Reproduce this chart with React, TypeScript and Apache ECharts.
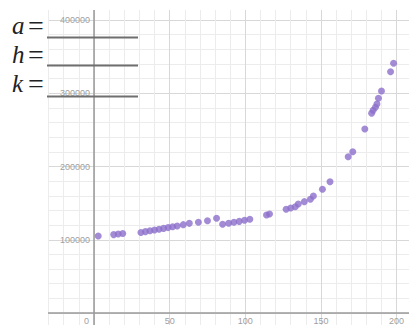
import React, { useEffect, useRef } from "react";
import * as echarts from "echarts";

const xValues = [
  2.8, 13, 16, 19, 31, 34, 37, 40, 43, 46, 49, 52, 55, 59, 63, 69, 75, 81, 85,
  89, 92.5, 96, 99.5, 103, 114, 116, 127, 130, 133, 135, 139, 143, 145, 151,
  156, 168, 171, 179, 183.5, 184.5, 186, 187, 188, 190, 196, 198,
];
const yValues = [
  105100, 107000, 107800, 108500, 110000, 111100, 112200, 113300, 114400,
  115500, 116600, 117700, 118800, 120600, 122400, 123800, 126000, 129300,
  121100, 122500, 123800, 125100, 126500, 127900, 133800, 135200, 141600,
  143300, 145100, 148800, 152000, 155200, 159700, 168900, 179200, 213400,
  220200, 251200, 272600, 276800, 281000, 285300, 293100, 303100, 329400,
  340900,
];
const xTicks = [0, 50, 100, 150, 200];
const yTicks = [100000, 200000, 300000, 400000];
const paramNames = ["a", "h", "k"];

export default function App() {
  const ref = useRef<HTMLDivElement>(null);
  useEffect(() => {
    if (!ref.current) return;
    const chart = echarts.init(ref.current, null, { renderer: "svg" });
    const labelColor = "#a0a0a0";
    const font = "Liberation Sans";
    const paramBaselines = [34.5, 63, 92.5];
    const lineYs = [37.5, 65.5, 96.5];
    const graphics: any[] = [
      { type: "rect", z: 100, shape: { x: 0, y: 0, width: 48, height: 325 }, style: { fill: "#fff" } },
      { type: "rect", z: 100, shape: { x: 0, y: 0, width: 409, height: 10 }, style: { fill: "#fff" } },
    ];
    paramNames.forEach((p, i) => {
      graphics.push({
        type: "text",
        z: 102,
        style: {
          text: "{v|" + p + "}{e|=}",
          x: 12,
          y: paramBaselines[i] + 5,
          verticalAlign: "bottom",
          rich: {
            v: { font: 'italic 25px "Liberation Serif"', fill: "#222", width: 16 },
            e: { font: '28px "Liberation Serif"', fill: "#222" },
          },
        },
      });
      graphics.push({
        type: "line",
        z: 101,
        shape: { x1: 47, y1: lineYs[i], x2: 138, y2: lineYs[i] },
        style: { stroke: "#6f6f6f", lineWidth: 2 },
      });
    });
    const X0 = 18.35, W = 453.9, T = -53.25, H = 439.5;
    const axisLineStyle = { color: "#9a9a9a", width: 1.5 };
    chart.setOption({
      animation: false,
      backgroundColor: "#fff",
      grid: [
        { left: X0, top: T, width: W, height: H, outerBoundsMode: "none" },
        { left: X0, top: T, width: W, height: 366.25, outerBoundsMode: "none" },
        { left: 94, top: T, width: 378.25, height: H, outerBoundsMode: "none" },
      ],
      xAxis: [
        {
          gridIndex: 0, type: "value", min: -50, max: 250, interval: 50,
          axisLine: { show: false }, axisTick: { show: false }, axisLabel: { show: false },
          splitLine: { show: true, lineStyle: { color: "#d8d8d8", width: 1 } },
          minorTick: { show: false, splitNumber: 5 },
          minorSplitLine: { show: true, lineStyle: { color: "#ececec", width: 1 } },
        },
        {
          gridIndex: 1, type: "value", min: -50, max: 250, interval: 50, position: "bottom",
          axisLine: { show: true, onZero: false, lineStyle: axisLineStyle },
          axisTick: { show: false },
          splitLine: { show: false },
          axisLabel: {
            color: labelColor, fontSize: 9, fontFamily: font, margin: 3,
            formatter: (v: number) =>
              xTicks.indexOf(v) < 0 ? "" : v === 0 ? "{o|0}" : String(v),
            rich: {
              o: { color: labelColor, fontSize: 9, fontFamily: font, padding: [0, 15, 0, 0] },
            },
          },
        },
        { gridIndex: 2, type: "value", min: 0, max: 250, show: false },
      ],
      yAxis: [
        {
          gridIndex: 0, type: "value", min: -100000, max: 500000, interval: 100000,
          axisLine: { show: false }, axisTick: { show: false }, axisLabel: { show: false },
          splitLine: { show: true, lineStyle: { color: "#d8d8d8", width: 1 } },
          minorTick: { show: false, splitNumber: 5 },
          minorSplitLine: { show: true, lineStyle: { color: "#ececec", width: 1 } },
        },
        { gridIndex: 1, type: "value", min: 0, max: 500000, show: false },
        {
          gridIndex: 2, type: "value", min: -100000, max: 500000, interval: 100000, position: "left",
          axisLine: { show: true, onZero: false, lineStyle: axisLineStyle },
          axisTick: { show: false },
          splitLine: { show: false },
          axisLabel: {
            color: labelColor, fontSize: 9, fontFamily: font, margin: 4,
            formatter: (v: number) => (yTicks.indexOf(v) < 0 ? "" : String(v)),
          },
        },
      ],
      graphic: graphics,
      series: [
        {
          type: "scatter",
          xAxisIndex: 0,
          yAxisIndex: 0,
          symbolSize: 7,
          itemStyle: { color: "#8c6fcb" },
          data: xValues.map((x, i) => [x, yValues[i]]),
        },
      ],
    });
    return () => chart.dispose();
  }, []);
  return (
    <div
      ref={ref}
      style={{ position: "absolute", left: 0, top: 0, width: 409, height: 325 }}
    />
  );
}
